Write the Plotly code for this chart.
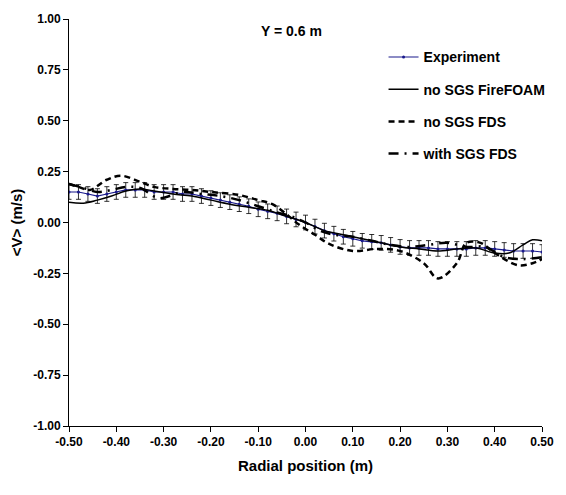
import plotly.graph_objects as go

# Experiment (with error bars)
exp_x = [-0.50, -0.48, -0.46, -0.44, -0.42, -0.40, -0.38, -0.36, -0.34, -0.32, -0.30,
         -0.28, -0.26, -0.24, -0.22, -0.20, -0.18, -0.16, -0.14, -0.12, -0.10,
         -0.08, -0.06, -0.04, -0.02, 0.00, 0.02, 0.04, 0.06, 0.08, 0.10,
         0.12, 0.14, 0.16, 0.18, 0.20, 0.22, 0.24, 0.26, 0.28, 0.30,
         0.32, 0.34, 0.36, 0.38, 0.40, 0.42, 0.44, 0.46, 0.48, 0.50]
exp_v = [0.15, 0.15, 0.14, 0.13, 0.14, 0.15, 0.16, 0.16, 0.16, 0.15, 0.15,
         0.15, 0.14, 0.14, 0.13, 0.12, 0.11, 0.10, 0.09, 0.08, 0.065,
         0.055, 0.045, 0.03, 0.015, 0.00, -0.02, -0.04, -0.055, -0.07, -0.08,
         -0.09, -0.095, -0.10, -0.11, -0.12, -0.125, -0.125, -0.125, -0.13, -0.13,
         -0.13, -0.13, -0.125, -0.125, -0.13, -0.135, -0.14, -0.14, -0.14, -0.145]
exp_err = 0.036

# no SGS FireFOAM
ff_x = [-0.50, -0.47, -0.44, -0.41, -0.38, -0.35, -0.32, -0.28, -0.24, -0.20, -0.16,
        -0.12, -0.08, -0.04, 0.00, 0.04, 0.08, 0.12, 0.16, 0.20, 0.24, 0.28,
        0.32, 0.36, 0.40, 0.43, 0.46, 0.48, 0.50]
ff_v = [0.10, 0.095, 0.11, 0.13, 0.155, 0.165, 0.155, 0.14, 0.13, 0.11, 0.09,
        0.075, 0.06, 0.03, 0.00, -0.04, -0.06, -0.08, -0.10, -0.12, -0.13, -0.14,
        -0.13, -0.125, -0.15, -0.15, -0.11, -0.085, -0.09]

# no SGS FDS
fds_x = [-0.50, -0.48, -0.456, -0.42, -0.39, -0.35, -0.32, -0.28, -0.24, -0.20, -0.14,
         -0.10, -0.07, -0.04, -0.014, 0.02, 0.05, 0.10, 0.15, 0.20, 0.25, 0.28,
         0.32, 0.34, 0.37, 0.40, 0.45, 0.48, 0.50]
fds_v = [0.19, 0.175, 0.16, 0.21, 0.23, 0.20, 0.175, 0.165, 0.16, 0.15, 0.135,
         0.11, 0.09, 0.04, -0.01, -0.06, -0.105, -0.14, -0.13, -0.14, -0.20, -0.275,
         -0.20, -0.10, -0.10, -0.15, -0.21, -0.20, -0.18]

# with SGS FDS
sgs_x = [-0.50, -0.47, -0.44, -0.41, -0.38, -0.35, -0.31, -0.26, -0.22, -0.18, -0.14,
         -0.10, -0.06, -0.03, 0.00, 0.03, 0.06, 0.10, 0.14, 0.18, 0.22, 0.26,
         0.30, 0.34, 0.38, 0.42, 0.46, 0.50]
sgs_v = [0.19, 0.17, 0.15, 0.16, 0.175, 0.17, 0.12, 0.15, 0.14, 0.13, 0.11,
         0.08, 0.05, 0.03, 0.00, -0.04, -0.06, -0.07, -0.09, -0.11, -0.12, -0.11,
         -0.10, -0.12, -0.12, -0.17, -0.18, -0.17]

x_ticks = [-0.5, -0.4, -0.3, -0.2, -0.1, 0.0, 0.1, 0.2, 0.3, 0.4, 0.5]
x_labels = ["-0.50", "-0.40", "-0.30", "-0.20", "-0.10", "0.00", "0.10", "0.20", "0.30", "0.40", "0.50"]
y_ticks = [1.0, 0.75, 0.5, 0.25, 0.0, -0.25, -0.5, -0.75, -1.0]
y_labels = ["1.00", "0.75", "0.50", "0.25", "0.00", "-0.25", "-0.50", "-0.75", "-1.00"]

FONT = "Liberation Sans, Arial, sans-serif"

fig = go.Figure()
fig.add_trace(go.Scatter(
    x=exp_x, y=exp_v, name="<b>Experiment</b>", mode="lines+markers",
    line=dict(color="#1a1a8c", width=1.2),
    marker=dict(color="#1a1a8c", size=3),
    error_y=dict(type="constant", value=exp_err, color="black", thickness=0.8, width=2.5),
    legendgroup="a"))
fig.add_trace(go.Scatter(
    x=ff_x, y=ff_v, name="<b>no SGS FireFOAM</b>", mode="lines", line_shape="spline",
    line=dict(color="black", width=1.5), legendgroup="b"))
fig.add_trace(go.Scatter(
    x=fds_x, y=fds_v, name="<b>no SGS FDS</b>", mode="lines", line_shape="spline",
    line=dict(color="black", width=2.5, dash="6px,4px"), legendgroup="c"))
fig.add_trace(go.Scatter(
    x=sgs_x, y=sgs_v, name="<b>with SGS FDS</b>", mode="lines", line_shape="spline",
    line=dict(color="black", width=2.5, dash="10px,6px,2px,6px"), legendgroup="d"))

fig.update_layout(
    width=566, height=495,
    margin=dict(l=69, r=22, t=16, b=69),
    paper_bgcolor="white", plot_bgcolor="white",
    font=dict(family=FONT, color="black", size=12),
    showlegend=True,
    legend=dict(x=0.665, y=0.945, xanchor="left", yanchor="top",
                font=dict(size=14, family=FONT), bgcolor="rgba(0,0,0,0)",
                traceorder="grouped", tracegroupgap=11, itemwidth=30),
    xaxis=dict(range=[-0.5, 0.5], tickvals=x_ticks, ticktext=[f"<b>{t}</b>" for t in x_labels],
               showgrid=False, zeroline=False, showline=True, linecolor="black", linewidth=1,
               ticks="outside", ticklen=5, tickcolor="black",
               tickfont=dict(size=12, family=FONT),
               title=dict(text="<b>Radial position (m)</b>", font=dict(size=15, family=FONT), standoff=12)),
    yaxis=dict(range=[-1.0, 1.0], tickvals=y_ticks, ticktext=[f"<b>{t}</b>" for t in y_labels],
               showgrid=False, zeroline=False, showline=True, linecolor="black", linewidth=1,
               ticks="outside", ticklen=5, tickcolor="black",
               tickfont=dict(size=12, family=FONT),
               title=dict(text="<b>&lt;V&gt; (m/s)</b>", font=dict(size=15, family=FONT), standoff=6)),
    annotations=[dict(text="<b>Y = 0.6 m</b>", x=0.47, y=0.995, xref="paper", yref="paper",
                      xanchor="center", yanchor="top", showarrow=False,
                      font=dict(size=14, family=FONT))],
)

fig.write_html("out.html")
